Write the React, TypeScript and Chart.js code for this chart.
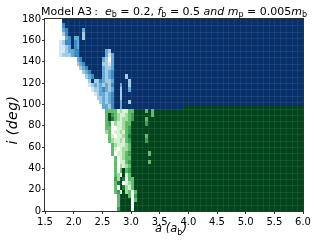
import React, { useEffect, useRef } from 'react';
import { Chart, registerables } from 'chart.js';
Chart.register(...registerables);

// ---- axes ----
const A_MIN = 1.5;
const A_MAX = 6.0;
const A_STEP_TICK = 0.5;
const I_MIN = 0;
const I_MAX = 180;
const I_STEP_TICK = 20;

// ---- fine grid near the stability boundary (rows from i=180 downward) ----
const CELL_A0 = 1.75;
const CELL_DA = 0.05;
const CELL_DI = 4;
const N_COLS = 35;
const SPLIT_I = 96; // blue above, green below
// '.' white, '1'..'5' light -> darker, 'D' darkest; columns past a row's end are 'D'
const ROWS: string[] = [
  '.D',
  '.4',
  '.34DDDDD3',
  '.24DDDDD2',
  '..34D33D2',
  '1244D43DD',
  '1123D43DD',
  '1123344DDDDDDDDD32',
  '1222344DDDDDDDDD313',
  '......34DDDDDDD32.3',
  '......234DDDDDD2213',
  '.......234DDDDD3223',
  '........234DDDD3234',
  '.........234DDD3234DDDD2',
  '..........2D2243223DDDDD2',
  '..........123232324DD3DD2',
  '...........12234323DD2DD3',
  '............1233234DD2',
  '.............223234DD2',
  '..............23234DD3DD2',
  '...............3324DD3',
  '................3333121133DDDD3D3',
  '................3D43211234DDDDDD3',
  '................3D53212234DDDD3',
  '................34.211233DDDDD4',
  '................33..11234D',
  '................23.112134D',
  '.................31.11235DDDDD3',
  '.................32112134DDDDD4',
  '..................3211123D',
  '..................31.1223D',
  '..................3.11234DDDDDD3',
  '...................3.1233D',
  '...................3.1134DDDDDD3',
  '...................3.2123D',
  '...................3.3D34D',
  '...................32.D13D',
  '...................42D5.33',
  '...................35D.123',
  '...................3.D5213',
  '...................341D23.3',
  '....................3DDD3.4',
  '....................3DDDD.3',
  '....................3DDDD.D',
  '....................4DDDD.D',
];

// ---- uniform far region (a >= 3.5) ----
const FAR_A = [3.5, 3.9, 6.0];
const FAR_SPLIT_I = [96, 98];

const BLUES: Record<string, string> = {
  '1': '#d3e5f4', '2': '#a2cbe3', '3': '#62a8d4', '4': '#3a88c1', '5': '#1c63a9', D: '#08306b',
};
const GREENS: Record<string, string> = {
  '1': '#d7f0d1', '2': '#a3da9d', '3': '#5fba6a', '4': '#389d54', '5': '#1b7b3a', D: '#02441b',
};

const SEAM_DA = 0.1;
const SEAM_DI = 6;

const FONT = 'DejaVu Sans';

type Seg = { t: string; st?: 'n' | 'i' | 'sub' };

const TITLE: Seg[] = [
  { t: 'Model A3\u2009:  ' },
  { t: 'e', st: 'i' }, { t: 'b', st: 'sub' }, { t: ' = 0.2, ' },
  { t: 'f', st: 'i' }, { t: 'b', st: 'sub' }, { t: ' = 0.5 ' },
  { t: 'and', st: 'i' }, { t: ' ' },
  { t: 'm', st: 'i' }, { t: 'p', st: 'sub' }, { t: ' = 0.005' },
  { t: 'm', st: 'i' }, { t: 'b', st: 'sub' },
];
const X_TITLE: Seg[] = [
  { t: 'a', st: 'i' }, { t: ' (', st: 'i' }, { t: 'a', st: 'i' }, { t: 'b', st: 'sub' }, { t: ')', st: 'i' },
];
const Y_TITLE = 'i (deg)';

function drawRich(ctx: CanvasRenderingContext2D, segs: Seg[], cx: number, base: number, size: number) {
  const fontFor = (s: Seg) =>
    s.st === 'sub' ? `${Math.round(size * 0.7)}px "${FONT}"` : s.st === 'i' ? `italic ${size}px "${FONT}"` : `${size}px "${FONT}"`;
  let total = 0;
  const widths = segs.map((s) => {
    ctx.font = fontFor(s);
    const w = ctx.measureText(s.t).width;
    total += w;
    return w;
  });
  let xx = cx - total / 2;
  ctx.textAlign = 'left';
  ctx.textBaseline = 'alphabetic';
  segs.forEach((s, n) => {
    ctx.font = fontFor(s);
    ctx.fillText(s.t, xx, base + (s.st === 'sub' ? size * 0.27 : 0));
    xx += widths[n];
  });
}

const heatmapPlugin = {
  id: 'heatmap',
  beforeDatasetsDraw(chart: any) {
    const { ctx, chartArea, scales } = chart;
    const x = scales.x;
    const y = scales.y;
    ctx.save();
    ctx.beginPath();
    ctx.rect(chartArea.left, chartArea.top, chartArea.right - chartArea.left, chartArea.bottom - chartArea.top);
    ctx.clip();
    const px = (a: number) => Math.round(x.getPixelForValue(a));
    const py = (i: number) => Math.round(y.getPixelForValue(i));
    const rect = (a0: number, a1: number, i0: number, i1: number, color: string) => {
      const X0 = px(a0), X1 = px(a1), Y0 = py(i1), Y1 = py(i0);
      ctx.fillStyle = color;
      ctx.fillRect(X0, Y0, X1 - X0, Y1 - Y0);
    };
    for (let s = 0; s < FAR_SPLIT_I.length; s++) {
      rect(FAR_A[s], FAR_A[s + 1], FAR_SPLIT_I[s], I_MAX, BLUES.D);
      rect(FAR_A[s], FAR_A[s + 1], I_MIN, FAR_SPLIT_I[s], GREENS.D);
    }
    ROWS.forEach((row, j) => {
      const i1 = I_MAX - j * CELL_DI;
      const i0 = i1 - CELL_DI;
      const pal = i0 >= SPLIT_I ? BLUES : GREENS;
      for (let k = 0; k < N_COLS; k++) {
        const c = k < row.length ? row[k] : 'D';
        if (c === '.') continue;
        rect(CELL_A0 + k * CELL_DA, CELL_A0 + (k + 1) * CELL_DA, i0, i1, pal[c]);
      }
    });
    // faint cell seams
    ctx.strokeStyle = 'rgba(255,255,255,0.07)';
    ctx.lineWidth = 1;
    ctx.beginPath();
    for (let a = A_MIN + SEAM_DA; a < A_MAX; a += SEAM_DA) {
      const X = px(a) + 0.5;
      ctx.moveTo(X, chartArea.top);
      ctx.lineTo(X, chartArea.bottom);
    }
    for (let i = I_MIN + SEAM_DI; i < I_MAX; i += SEAM_DI) {
      const Y = py(i) + 0.5;
      ctx.moveTo(chartArea.left, Y);
      ctx.lineTo(chartArea.right, Y);
    }
    ctx.stroke();
    ctx.restore();
  },
  afterDraw(chart: any) {
    const { ctx, chartArea } = chart;
    ctx.save();
    ctx.strokeStyle = '#333';
    ctx.lineWidth = 1;
    ctx.strokeRect(chartArea.left - 0.5, chartArea.top - 0.5, chartArea.right - chartArea.left + 1, chartArea.bottom - chartArea.top + 1);
    ctx.fillStyle = '#000';
    const cx = (chartArea.left + chartArea.right) / 2;
    drawRich(ctx, TITLE, cx, 14.5, 11);
    drawRich(ctx, X_TITLE, cx - 3, 231.5, 11.5);
    ctx.translate(13, 120);
    ctx.rotate(-Math.PI / 2);
    ctx.font = `italic 14px "${FONT}"`;
    (ctx as any).letterSpacing = '0.5px';
    ctx.textAlign = 'center';
    ctx.textBaseline = 'middle';
    ctx.fillText(Y_TITLE, 0, 0);
    ctx.restore();
  },
};

export default function App() {
  const ref = useRef<HTMLCanvasElement | null>(null);
  useEffect(() => {
    if (!ref.current) return;
    const chart = new Chart(ref.current, {
      type: 'scatter',
      data: { datasets: [{ data: [], pointRadius: 0 }] },
      options: {
        animation: false,
        responsive: false,
        events: [],
        layout: { padding: { top: 19, right: 13, left: 0, bottom: 0 } },
        plugins: { legend: { display: false }, tooltip: { enabled: false }, title: { display: false } },
        scales: {
          x: {
            type: 'linear',
            min: A_MIN,
            max: A_MAX,
            ticks: {
              stepSize: A_STEP_TICK,
              color: '#000',
              padding: 2,
              font: { family: FONT, size: 10 },
              callback: (v: any) => Number(v).toFixed(1),
            },
            grid: { display: true, drawOnChartArea: false, drawTicks: true, tickLength: 3, color: '#333' },
            border: { display: false },
            afterFit: (s: any) => { s.height = 30; },
          },
          y: {
            type: 'linear',
            min: I_MIN,
            max: I_MAX,
            ticks: {
              stepSize: I_STEP_TICK,
              color: '#000',
              padding: 1,
              font: { family: FONT, size: 10 },
            },
            grid: { display: true, drawOnChartArea: false, drawTicks: true, tickLength: 3, color: '#333' },
            border: { display: false },
            afterFit: (s: any) => { s.width = 45; },
          },
        },
      },
      plugins: [heatmapPlugin],
    });
    return () => chart.destroy();
  }, []);
  return (
    <div style={{ position: 'fixed', left: 0, top: 0, width: 316, height: 241, background: '#fff' }}>
      <canvas ref={ref} width={316} height={241} style={{ display: 'block' }} />
    </div>
  );
}
